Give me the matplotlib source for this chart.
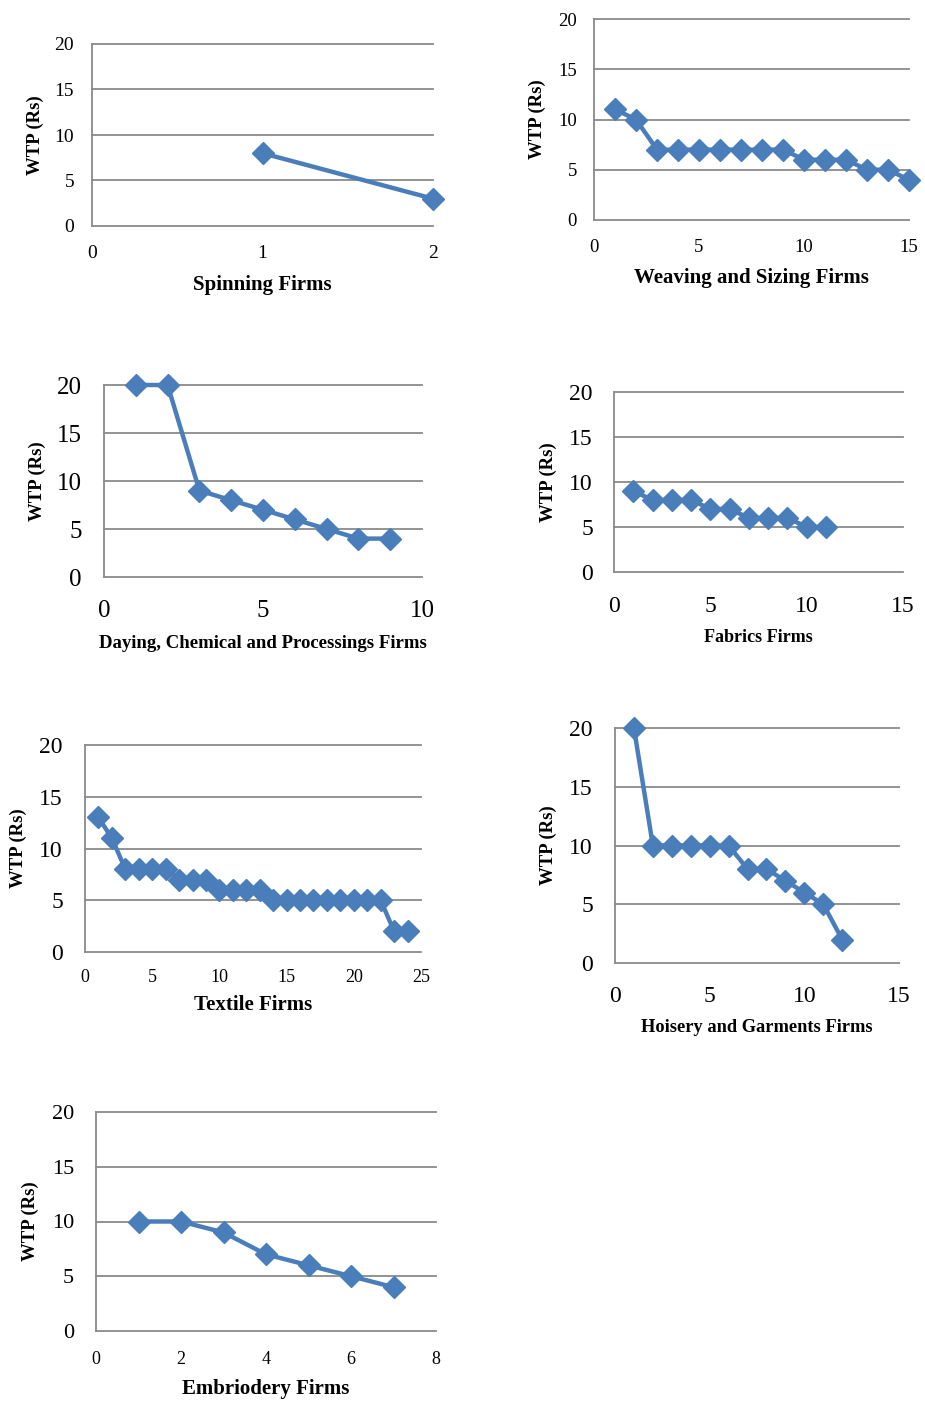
import matplotlib
matplotlib.use("Agg")
import matplotlib.pyplot as plt

plt.rcParams['font.family'] = ['Liberation Serif', 'DejaVu Serif']

# ---------------- data ----------------
spinning_x = [1, 2]
spinning_y = [8, 3]

weaving_x = list(range(1, 16))
weaving_y = [11, 10, 7, 7, 7, 7, 7, 7, 7, 6, 6, 6, 5, 5, 4]

dyeing_x = list(range(1, 10))
dyeing_y = [20, 20, 9, 8, 7, 6, 5, 4, 4]

fabrics_x = list(range(1, 12))
fabrics_y = [9, 8, 8, 8, 7, 7, 6, 6, 6, 5, 5]

textile_x = list(range(1, 25))
textile_y = [13, 11, 8, 8, 8, 8, 7, 7, 7, 6, 6, 6, 6, 5, 5, 5, 5, 5, 5, 5, 5, 5, 2, 2]

hoisery_x = list(range(1, 13))
hoisery_y = [20, 10, 10, 10, 10, 10, 8, 8, 7, 6, 5, 2]

embroidery_x = list(range(1, 8))
embroidery_y = [10, 10, 9, 7, 6, 5, 4]

y_ticks = [0, 5, 10, 15, 20]
y_label = "WTP (Rs)"

titles = ["Spinning Firms", "Weaving and Sizing Firms",
          "Daying, Chemical and Processings Firms", "Fabrics Firms",
          "Textile Firms", "Hoisery and Garments Firms", "Embriodery Firms"]
x_ticks = [[0, 1, 2], [0, 5, 10, 15], [0, 5, 10], [0, 5, 10, 15],
           [0, 5, 10, 15, 20, 25], [0, 5, 10, 15], [0, 2, 4, 6, 8]]
series = [(spinning_x, spinning_y), (weaving_x, weaving_y), (dyeing_x, dyeing_y),
          (fabrics_x, fabrics_y), (textile_x, textile_y), (hoisery_x, hoisery_y),
          (embroidery_x, embroidery_y)]

# ---------------- layout (pixels) ----------------
W, H = 925, 1406
# box l,t,r,b ; ytick fs ; xtick fs ; xtick center y ; ytick gap ; ylabel x ; xlabel y ; xlabel fs
layout = [
    ((92, 44, 433, 226), 14, 14, 252, 18, 35, 285, 15),
    ((594, 19, 909, 220), 13.5, 13.5, 246, 17, 537, 278, 15),
    ((104, 385, 422, 577), 18, 18, 609, 22, 37, 643, 13.5),
    ((614, 392, 903, 572), 17, 17, 604, 21, 548, 637, 13),
    ((85, 745, 421, 952), 17, 13, 975, 22, 18, 1005, 15),
    ((615, 728, 899, 963), 17, 17, 994, 22, 548, 1028, 13.2),
    ((96, 1112, 436, 1331), 16, 13, 1357, 22, 30, 1389, 15),
]

LINE = '#4A7EBB'
GRID = '#8A8A8A'

fig = plt.figure(figsize=(W / 100, H / 100), dpi=100)

for (xs, ys), title, xt, lay in zip(series, titles, x_ticks, layout):
    (l, t, r, b), yfs, xfs, xtc, ygap, ylx, xly, xlfs = lay
    ax = fig.add_axes([l / W, 1 - b / H, (r - l) / W, (b - t) / H])
    ax.set_xlim(xt[0], xt[-1])
    ax.set_ylim(0, 20)
    ax.set_xticks(xt)
    ax.set_yticks(y_ticks)
    for yv in y_ticks:
        ax.axhline(yv, color=GRID, lw=1.3, zorder=1, clip_on=False)
    for s in ['top', 'right', 'bottom']:
        ax.spines[s].set_visible(False)
    ax.spines['left'].set_color(GRID)
    ax.spines['left'].set_linewidth(1.3)
    ax.plot(xs, ys, linestyle='None', marker='D', markersize=11.5,
            color=LINE, zorder=3, clip_on=False)
    ax.plot(xs, ys, color=LINE, lw=3.2, zorder=4, clip_on=False)

    em_x = xfs / 0.72
    xpad = (xtc - b - 0.36 * em_x) * 0.72
    ax.tick_params(axis='x', length=0, labelsize=xfs, pad=xpad, colors='black')
    ax.tick_params(axis='y', length=0, labelsize=yfs, pad=ygap * 0.72, colors='black')

    ax.set_ylabel(y_label, fontsize=13.5, fontweight='bold')
    ax.yaxis.set_label_coords((ylx - l) / (r - l), 0.5)
    ax.yaxis.label.set_verticalalignment('center')

    ax.set_xlabel(title, fontsize=xlfs, fontweight='bold')
    ax.xaxis.set_label_coords(0.5, (b - xly) / (b - t))
    ax.xaxis.label.set_verticalalignment('center')

fig.savefig('out.png', dpi=100)
